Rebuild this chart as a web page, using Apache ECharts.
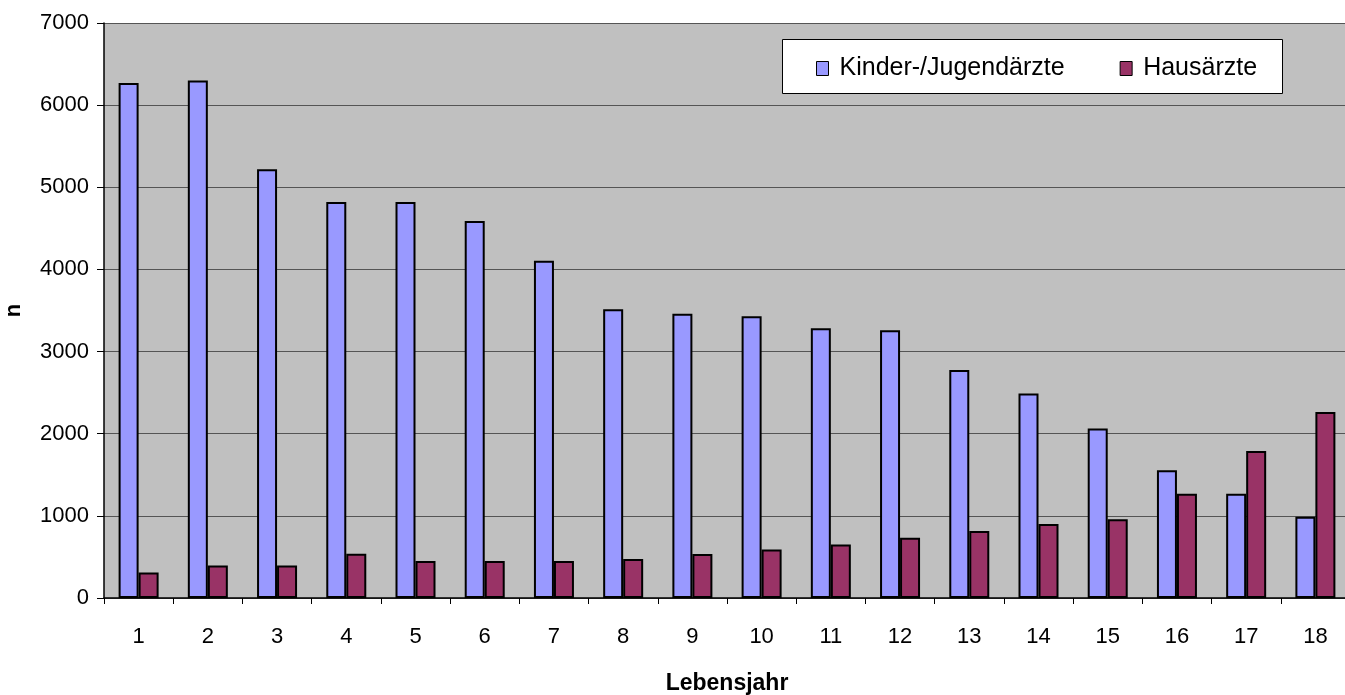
<!DOCTYPE html>
<html>
<head>
<meta charset="utf-8">
<script src="https://cdn.jsdelivr.net/npm/echarts@6/dist/echarts.min.js"></script>
<style>
  html, body { margin: 0; padding: 0; background: #ffffff; }
  #chart { width: 1345px; height: 695px; }
</style>
</head>
<body>
<div id="chart"></div>
<script>
// Lebensjahr 1..18
const categories = ['1','2','3','4','5','6','7','8','9','10','11','12','13','14','15','16','17','18'];
// Anzahl Patienten je Arztgruppe
const kinderJugendaerzte = [6270, 6300, 5220, 4820, 4820, 4590, 4105, 3515, 3460, 3430, 3285, 3260, 2775, 2490, 2065, 1555, 1270, 990];
const hausaerzte = [310, 395, 395, 540, 450, 450, 450, 475, 535, 590, 650, 735, 815, 900, 960, 1270, 1790, 2265];
const yTicks = { min: 0, max: 7000, interval: 1000 };

const FONT = '"Liberation Sans", Arial, sans-serif';

const chart = echarts.init(document.getElementById('chart'), null, { renderer: 'canvas' });

chart.setOption({
  animation: false,
  backgroundColor: '#ffffff',
  grid: {
    left: 104, top: 23, bottom: 97, right: -5,
    containLabel: false,
    outerBoundsMode: 'none',
    show: true, backgroundColor: '#C0C0C0', borderWidth: 0
  },
  graphic: [{
    type: 'rect', z: 50,
    shape: { x: 782.5, y: 39.5, width: 500, height: 54 },
    style: { fill: '#ffffff', stroke: '#000000', lineWidth: 1 }
  }],
  legend: {
    z: 60,
    left: 811, top: 51,
    itemWidth: 12, itemHeight: 14,
    itemGap: 55,
    icon: 'rect',
    itemStyle: { borderColor: '#000000', borderWidth: 1 },
    textStyle: { fontFamily: FONT, fontSize: 25, color: '#000000', padding: [0, 0, 0, 6] },
    data: ['Kinder-/Jugendärzte', 'Hausärzte']
  },
  xAxis: {
    type: 'category',
    data: categories,
    name: 'Lebensjahr',
    nameLocation: 'middle',
    nameGap: 74,
    nameTextStyle: { fontFamily: FONT, fontWeight: 'bold', fontSize: 23, color: '#000000' },
    axisLine: { show: true, lineStyle: { color: '#000000', width: 1.5 } },
    axisTick: { show: true, length: 6, lineStyle: { color: '#000000' } },
    axisLabel: { fontFamily: FONT, fontSize: 22, color: '#000000', margin: 28 },
    splitLine: { show: false }
  },
  yAxis: {
    type: 'value',
    min: yTicks.min, max: yTicks.max, interval: yTicks.interval,
    name: 'n',
    nameLocation: 'middle',
    nameGap: 79,
    nameTextStyle: { fontFamily: FONT, fontWeight: 'bold', fontSize: 22, color: '#000000' },
    axisLine: { show: true, lineStyle: { color: '#000000', width: 1.5 } },
    axisTick: { show: true, length: 7, lineStyle: { color: '#000000' } },
    axisLabel: {
      fontFamily: FONT, fontSize: 22, color: '#000000', margin: 15,
      formatter: v => String(v)
    },
    splitLine: { show: true, lineStyle: { color: '#555555', width: 1.2 } }
  },
  series: [
    {
      name: 'Kinder-/Jugendärzte',
      type: 'bar',
      data: kinderJugendaerzte,
      barWidth: 20,
      barGap: '0%',
      itemStyle: { color: '#9999FF', borderColor: '#000000', borderWidth: 2 }
    },
    {
      name: 'Hausärzte',
      type: 'bar',
      data: hausaerzte,
      barWidth: 20,
      barGap: '0%',
      itemStyle: { color: '#993366', borderColor: '#000000', borderWidth: 2 }
    }
  ]
});
</script>
</body>
</html>
